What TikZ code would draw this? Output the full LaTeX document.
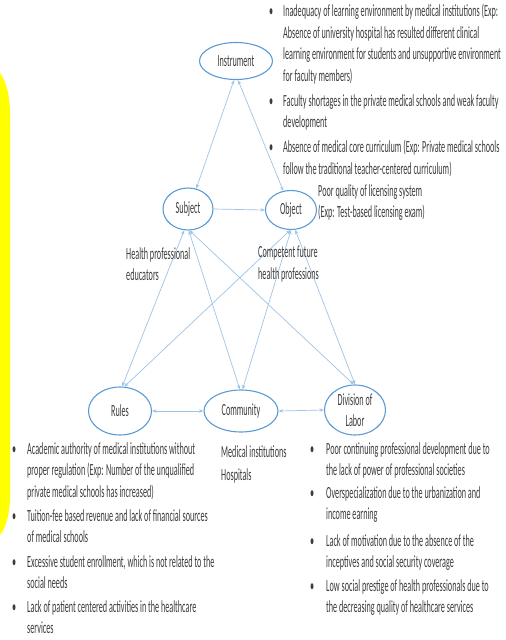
\documentclass[tikz,border=0pt]{standalone}
\usepackage{fontspec}
\setmainfont{Carlito}[FakeStretch=0.48]
\usetikzlibrary{shapes.geometric,arrows.meta}
\definecolor{at-ring}{HTML}{5B9BD5}
\definecolor{at-link}{HTML}{9DC3E6}
\definecolor{at-text}{HTML}{3B3B3B}
\definecolor{at-mark}{HTML}{FFFF00}
\tikzset{
  phase/.style={ellipse, draw=at-ring, line width=1.1pt, inner sep=0pt, text=at-text, align=center},
  link/.style={<->, at-link, line width=0.7pt},
  note/.style={text=at-text, align=left, inner sep=0pt, anchor=north west, execute at begin node=\strut},
  dot/.style={text=at-text, inner sep=0pt, anchor=base west, yshift=3pt},
}

\begin{document}
\begin{tikzpicture}[x=1pt, y=-1pt, font=\fontsize{17}{21.5}\selectfont, >={Stealth[length=4.5pt,width=3.5pt]}]
    \useasboundingbox (0,0) rectangle (506,640);
    \fill[at-mark] (0,73) .. controls (7,82) and (10,98) .. (10,115) -- (10,495) .. controls (10,512) and (7,526) .. (0,535) -- cycle;

    % activity system
    \node[phase, minimum width=73pt, minimum height=37pt] (inst) at (236,61) {Instrument};
    \node[phase, minimum width=50pt, minimum height=42pt] (subj) at (188,209) {Subject};
    \node[phase, minimum width=51pt, minimum height=39pt] (obj) at (291,210) {Object};
    \node[phase, minimum width=63pt, minimum height=48pt] (rules) at (120,411) {Rules};
    \node[phase, minimum width=74pt, minimum height=42pt] (comm) at (241,411) {Community};
    \node[phase, minimum width=61pt, minimum height=50pt] (div) at (355,410) {Division of\\Labor};

    \draw[link] (inst.-96) -- (subj.68);
    \draw[link] (inst.-84) -- (obj.112);
    \draw[link, ->] (subj.east) -- (obj.west);
    \draw[link] (subj.-100) -- (rules.85);
    \draw[link] (subj.-88) -- (comm.93);
    \draw[link] (subj.-86) -- (div.93);
    \draw[link] (obj.-92) -- (rules.80);
    \draw[link] (obj.-90) -- (comm.86);
    \draw[link] (obj.-78) -- (div.90);
    \draw[link] (rules.east) -- (comm.west);
    \draw[link] (comm.east) -- (div.west);

    % labels
    \node[note] (subjnote) at (126,247) {Health professional\\educators};
    \node[note] (objnote) at (258,246) {Competent future\\health professions};
    \node[note] (lic) at (318,184) {Poor quality of licensing system\\(Exp: Test-based licensing exam)};
    \node[note] (commnote) at (221,445) {Medical institutions\\[2pt]Hospitals};

    % instrument contradictions
    \node[dot] (instdot1) at (269,19) {\textbullet};
    \node[note] (inst1) at (283,4) {Inadequacy of learning environment by medical institutions (Exp:\\Absence of university hospital has resulted different clinical\\learning environment for students and unsupportive environment\\for faculty members)};
    \node[dot] (instdot2) at (269,109) {\textbullet};
    \node[note] (inst2) at (283,94) {Faculty shortages in the private medical schools and weak faculty\\development};
    \node[dot] (instdot3) at (269,155) {\textbullet};
    \node[note] (inst3) at (283,140) {Absence of medical core curriculum (Exp: Private medical schools\\follow the traditional teacher-centered curriculum)};

    % rules contradictions
    \node[dot] (rulesdot1) at (12,457) {\textbullet};
    \node[note] (rules1) at (27,442) {Academic authority of medical institutions without\\proper regulation (Exp: Number of the unqualified\\private medical schools has increased)};
    \node[dot] (rulesdot2) at (12,524) {\textbullet};
    \node[note] (rules2) at (27,509) {Tuition-fee based revenue and lack of financial sources\\of medical schools};
    \node[dot] (rulesdot3) at (12,570) {\textbullet};
    \node[note] (rules3) at (27,555) {Excessive student enrollment, which is not related to the\\social needs};
    \node[dot] (rulesdot4) at (12,615) {\textbullet};
    \node[note] (rules4) at (27,600) {Lack of patient centered activities in the healthcare\\services};

    % division of labor contradictions
    \node[dot] (divdot1) at (310,457) {\textbullet};
    \node[note] (div1) at (326,442) {Poor continuing professional development due to\\the lack of power of professional societies};
    \node[dot] (divdot2) at (310,501) {\textbullet};
    \node[note] (div2) at (326,486) {Overspecialization due to the urbanization and\\income earning};
    \node[dot] (divdot3) at (310,549) {\textbullet};
    \node[note] (div3) at (326,534) {Lack of motivation due to the absence of the\\inceptives and social security coverage};
    \node[dot] (divdot4) at (310,594) {\textbullet};
    \node[note] (div4) at (326,579) {Low social prestige of health professionals due to\\the decreasing quality of healthcare services};
\end{tikzpicture}
\end{document}
